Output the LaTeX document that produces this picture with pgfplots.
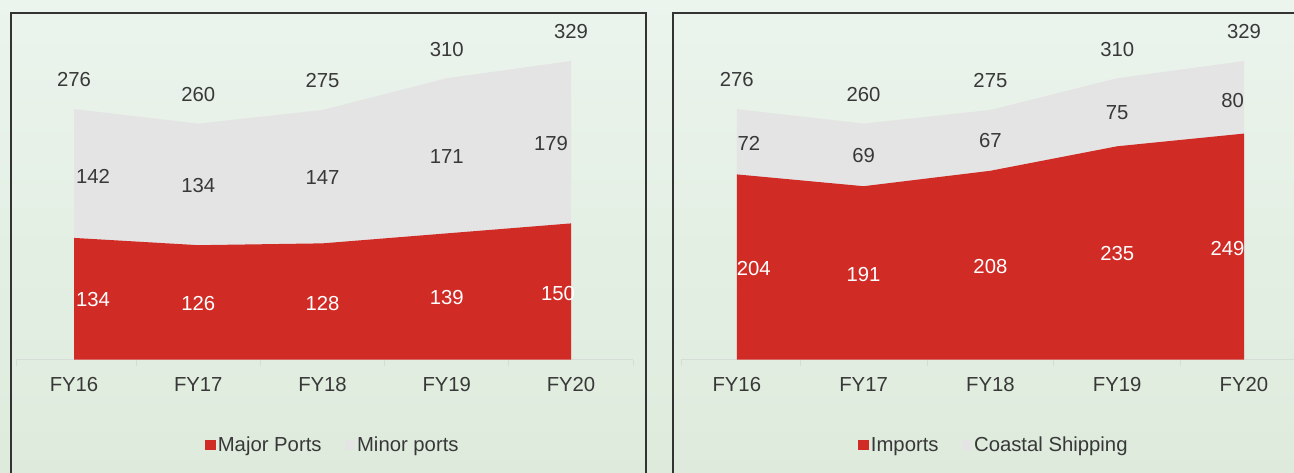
\documentclass[border=0pt]{standalone}
\usepackage{pgfplots}
\pgfplotsset{compat=1.18}
\usepackage{fontspec}
\setmainfont{Liberation Sans}
\definecolor{redA}{RGB}{209,43,38}
\definecolor{grayA}{RGB}{228,228,228}
\definecolor{txt}{RGB}{56,56,56}
\definecolor{bgtop}{RGB}{235,244,237}
\definecolor{bgbot}{RGB}{222,235,220}
\definecolor{axln}{RGB}{214,220,214}
\newcommand{\bigf}{\fontsize{20.3}{24}\selectfont}

\pgfplotstableread{
x y lab
0 276 276
1 260 260
2 275 275
3 310 310
4 329 329
}\totals
\pgfplotstableread{
x y lab
0 134 134
1 126 126
2 128 128
3 139 139
4 150 150
}\major
\pgfplotstableread{
x y lab
0 142 142
1 134 134
2 147 147
3 171 171
4 179 179
}\minor
\pgfplotstableread{
x y lab
0 204 204
1 191 191
2 208 208
3 235 235
4 249 249
}\imports
\pgfplotstableread{
x y lab
0 72 72
1 69 69
2 67 67
3 75 75
4 80 80
}\coastal
% label positions (data coordinates of label centres)
\pgfplotstableread{
x y lab
0 308.1 276
1 292.6 260
2 307.0 275
3 342.2 310
4 361.0 329
}\totlab
\pgfplotstableread{
x y lab
0.153 201.5 142
1 191.6 134
2 200.4 147
3 223.2 171
3.839 238.3 179
}\minlab
\pgfplotstableread{
x y lab
0.153 65.6 134
1 61.2 126
2 61.9 128
3 68.1 139
3.895 73.0 150
}\majlab
\pgfplotstableread{
x y lab
0.095 238.3 72
1 224.6 69
2 241.2 67
3 272.0 75
3.91 285.2 80
}\coalab
\pgfplotstableread{
x y lab
0.134 100.5 204
1 94.2 191
2 102.3 208
3 116.3 235
3.87 122.6 249
}\implab

\pgfplotsset{
  panel/.style={
    anchor=south west,
    axis x line=bottom, axis y line=none,
    every outer x axis line/.style={-},
    every inner x axis line/.style={-},
    axis line style={axln, line width=1.2pt, -},
    ymin=0, ymax=370, y=0.9073pt,
    xtick={0,...,4}, xticklabels={FY16,FY17,FY18,FY19,FY20},
    major tick length=0pt,
    minor tick length=6pt, tick align=outside,
    minor tick style={axln, line width=1pt},
    xticklabel style={font=\bigf, text=txt, inner sep=0pt, anchor=north, yshift=-17.5pt},
    clip=false,
    legend style={draw=none, fill=none, legend columns=2, anchor=center,
      font=\bigf, text=txt, nodes={inner sep=2pt},
      /tikz/every even column/.append style={column sep=21pt}},
    legend image code/.code={\fill[##1,draw=none] (0pt,-5.25pt) rectangle (10.5pt,5.25pt);},
    reverse legend,
  },
  lbl/.style={draw=none, mark=none, forget plot, nodes near coords,
    point meta=explicit symbolic,
    every node near coord/.append style={font=\bigf, inner sep=0pt, anchor=center, text=#1}},
}

\begin{document}
\begin{tikzpicture}
\useasboundingbox (0pt,0pt) rectangle (1294pt,472pt);
\clip (0pt,0pt) rectangle (1294pt,472pt);
\shade[top color=bgtop, bottom color=bgbot] (0pt,0pt) rectangle (1294pt,472pt);
\draw[line width=1.5pt, black!80] (11pt,-5pt) -- (11pt,459pt) -- (646pt,459pt) -- (646pt,-5pt);
\draw[line width=1.5pt, black!80] (673pt,-5pt) -- (673pt,459pt) -- (1310pt,459pt);

\begin{axis}[panel, at={(16pt,112.5pt)}, x=124.25pt, xmin=-0.467, xmax=4.5,
  minor xtick={-0.467,0.5,1.5,2.5,3.5,4.5},
  legend style={at={(0.5136,-0.2547)}}]
\addplot[fill=grayA, draw=none] table[x=x,y=y] {\totals} \closedcycle;
\addlegendentry{Minor ports}
\addplot[fill=redA, draw=none] table[x=x,y=y] {\major} \closedcycle;
\addlegendentry{Major Ports}
\addplot[lbl=txt] table[x=x,y=y,meta=lab] {\totlab};
\addplot[lbl=txt] table[x=x,y=y,meta=lab] {\minlab};
\addplot[lbl=white] table[x=x,y=y,meta=lab] {\majlab};
\end{axis}

\begin{axis}[panel, at={(681pt,112.5pt)}, x=126.8pt, xmin=-0.44, xmax=4.5,
  minor xtick={-0.44,0.5,1.5,2.5,3.5,4.5},
  legend style={at={(0.4997,-0.2547)}}]
\addplot[fill=grayA, draw=none] table[x=x,y=y] {\totals} \closedcycle;
\addlegendentry{Coastal Shipping}
\addplot[fill=redA, draw=none] table[x=x,y=y] {\imports} \closedcycle;
\addlegendentry{Imports}
\addplot[lbl=txt] table[x=x,y=y,meta=lab] {\totlab};
\addplot[lbl=txt] table[x=x,y=y,meta=lab] {\coalab};
\addplot[lbl=white] table[x=x,y=y,meta=lab] {\implab};
\end{axis}
\end{tikzpicture}
\end{document}
